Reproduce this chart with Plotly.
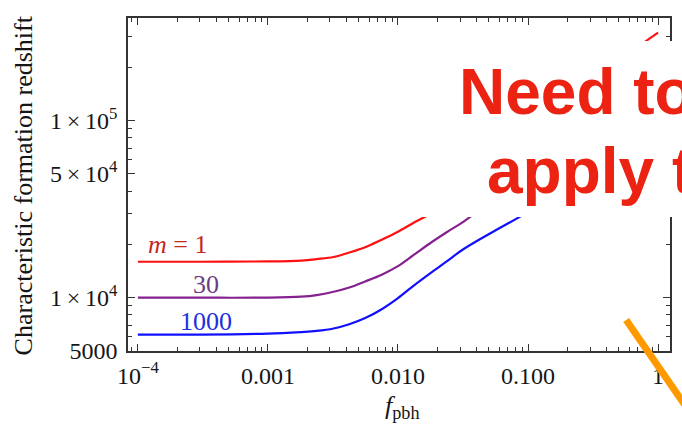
import plotly.graph_objects as go

# ---- data ----
f_pbh = [1e-4, 3e-4, 1e-3, 0.0018, 0.00237, 0.0032, 0.00422, 0.0056, 0.0075, 0.01, 0.0133,
         0.018, 0.0237, 0.032, 0.056, 0.1, 0.32, 0.63, 1.0]
z_m1 = [15960, 15960, 16030, 16220, 16520, 16980, 17990, 19280, 21280, 23600, 26610,
        29990, 34670, 40930, 56230, 79430, 158500, 245500, 314100]
z_m30 = [10000, 10000, 10020, 10140, 10350, 10810, 11430, 12360, 13490, 15070, 17500,
         20510, 23440, 26920, 36310, 48980, 91200, 131800, 169800]
z_m1000 = [6180, 6190, 6270, 6400, 6490, 6700, 7080, 7670, 8610, 9950, 11750,
           13870, 16030, 18840, 23990, 30550, 55590, 78520, 98860]

line_colors = ["#ff1010", "#85208f", "#1010ff"]
label_colors = ["#c4281e", "#6e3c82", "#2030e0"]

x_tickvals = [1e-4, 1e-3, 1e-2, 1e-1, 1]
x_ticktext = ["10<sup>\u22124</sup>", "0.001", "0.010", "0.100", "1"]
y_tickvals = [5000, 1e4, 5e4, 1e5]
y_ticktext = ["5000", "1\u2009\u00d7\u200910<sup>4</sup>", "5\u2009\u00d7\u200910<sup>4</sup>",
              "1\u2009\u00d7\u200910<sup>5</sup>"]
x_minor = [m * 10.0 ** e for e in range(-5, 1) for m in range(2, 10)]
y_minor = [6000, 7000, 8000, 9000, 2e4, 3e4, 4e4, 6e4, 7e4, 8e4, 9e4, 2e5, 3e5]

W, H = 682, 430
L, R, T, B = 128, 10, 18, 79
PW, PH = W - L - R, H - T - B


def px(x):
    return (x - L) / PW


def py(y):
    return (H - B - y) / PH


fig = go.Figure()
for z, c in zip([z_m1, z_m30, z_m1000], line_colors):
    fig.add_trace(go.Scatter(x=f_pbh, y=z, mode="lines",
                             line=dict(color=c, width=2.2, shape="spline", smoothing=1.0),
                             showlegend=False, hoverinfo="skip"))

serif = "Liberation Serif"
axis_common = dict(type="log", showline=True, linecolor="#333333", linewidth=1.5, mirror="allticks",
                   ticks="inside", ticklen=7, tickwidth=1.2, tickcolor="#333333",
                   showgrid=False, zeroline=False,
                   tickfont=dict(family=serif, size=24, color="#151515"))

fig.update_xaxes(range=[-4.076, 0.092], tickmode="array", tickvals=x_tickvals, ticktext=x_ticktext,
                 minor=dict(tickmode="array", tickvals=x_minor, ticks="inside", ticklen=4,
                            tickcolor="#333333", tickwidth=1),
                 ticklabelstandoff=2, **axis_common)
fig.update_yaxes(range=[3.699, 5.58], tickmode="array", tickvals=y_tickvals, ticktext=y_ticktext,
                 minor=dict(tickmode="array", tickvals=y_minor, ticks="inside", ticklen=4,
                            tickcolor="#333333", tickwidth=1),
                 ticklabelstandoff=4, **axis_common)

# curve labels
label_pos = [(-3.695, 4.30), (-3.48, 4.073), (-3.48, 3.864)]
label_text = ["<i>m</i> = 1", "30", "1000"]
for (lx, ly), t, c in zip(label_pos, label_text, label_colors):
    fig.add_annotation(x=lx, y=ly, xref="x", yref="y", text=t, showarrow=False,
                       font=dict(family=serif, size=26, color=c), xanchor="center", yanchor="middle")

# axis titles
fig.add_annotation(x=px(23), y=py(185), xref="paper", yref="paper", textangle=-90,
                   xanchor="center", yanchor="middle",
                   text="Characteristic formation redshift", showarrow=False,
                   font=dict(family=serif, size=26, color="#151515"))
fig.add_annotation(x=px(404), y=py(407), xref="paper", yref="paper",
                   xanchor="center", yanchor="middle",
                   text="<i>f</i><sub>pbh</sub>", showarrow=False,
                   font=dict(family=serif, size=26, color="#151515"))

# overlay: white box, red text and orange stroke
fig.add_shape(type="rect", xref="paper", yref="paper", x0=px(400), x1=px(690), y0=py(217), y1=py(41),
              fillcolor="white", line=dict(width=0), layer="above")
fig.add_annotation(x=px(458), y=py(92), xref="paper", yref="paper", text="Need to", showarrow=False,
                   xanchor="left", yanchor="middle",
                   font=dict(family="Liberation Sans", size=64, color="#ec2312", weight="bold"))
fig.add_annotation(x=px(486), y=py(171), xref="paper", yref="paper", text="apply t", showarrow=False,
                   xanchor="left", yanchor="middle",
                   font=dict(family="Liberation Sans", size=64, color="#ec2312", weight="bold"))
fig.add_shape(type="line", xref="paper", yref="paper", x0=px(628), y0=py(320), x1=px(700), y1=py(424),
              line=dict(color="#ff9900", width=7), layer="above")

fig.update_layout(width=W, height=H, margin=dict(l=L, r=R, t=T, b=B),
                  paper_bgcolor="white", plot_bgcolor="white")

fig.write_html("out.html")
